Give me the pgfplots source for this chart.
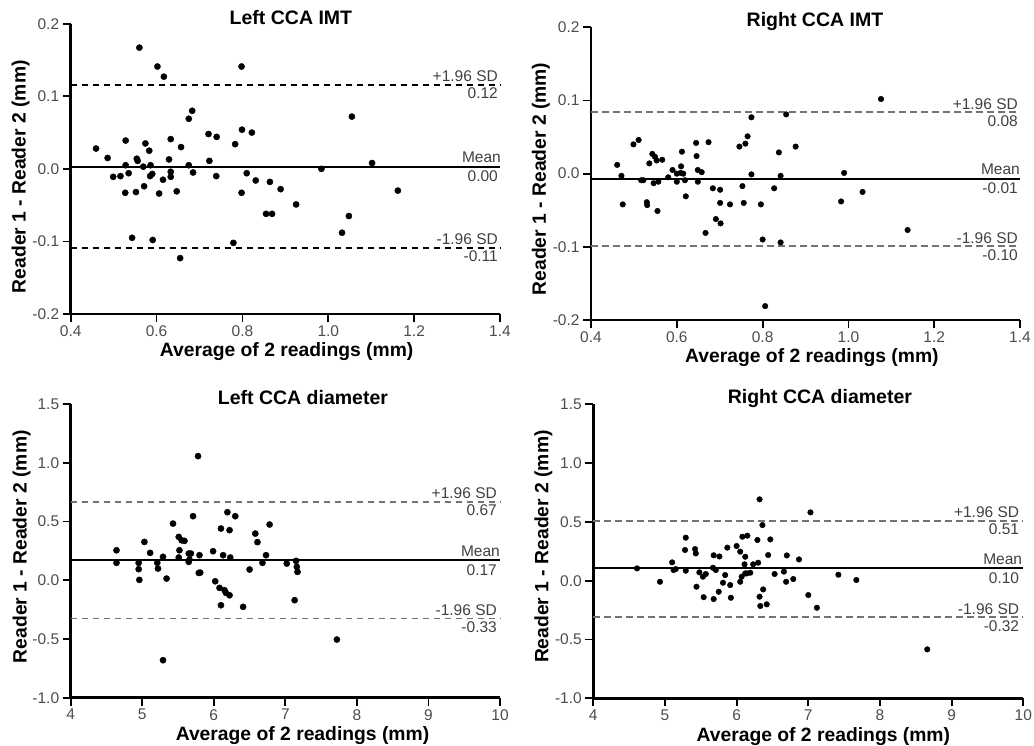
\documentclass[border=0pt]{standalone}
\usepackage{fontspec}
\setmainfont{Liberation Sans}
\usepackage{pgfplots}
\pgfplotsset{compat=1.18}

% one pixel of the reference = 1pt
\pgfplotsset{
  ba/.style={
    scale only axis, axis lines*=left, enlargelimits=false, clip=false,
    axis line style={line width=2.6pt, black},
    tick align=outside, major tick length=8pt,
    tick style={line width=1.8pt, black},
    tick label style={font=\fontsize{15.5}{18}\selectfont, text=black!70},
    label style={font=\fontsize{19.3}{22}\selectfont\bfseries},
    title style={font=\fontsize{19.5}{22}\selectfont\bfseries, anchor=center},
    ylabel={Reader 1 - Reader 2 (mm)},
    xlabel={Average of 2 readings (mm)},
  },
  imt/.style={ba, xmin=0.4, xmax=1.4, ymin=-0.2, ymax=0.2,
    xtick={0.4,0.6,0.8,1.0,1.2,1.4}, xticklabels={0.4,0.6,0.8,1.0,1.2,1.4},
    ytick={-0.2,-0.1,0,0.1,0.2}, yticklabels={-0.2,-0.1,0.0,0.1,0.2}},
  dia/.style={ba, xmin=4, xmax=10, ymin=-1, ymax=1.5,
    xtick={4,5,6,7,8,9,10}, xticklabels={4,5,6,7,8,9,10},
    ytick={-1,-0.5,0,0.5,1,1.5}, yticklabels={-1.0,-0.5,0.0,0.5,1.0,1.5}},
  pts/.style={only marks, mark=*, mark size=#1, mark options={draw=black, fill=black}},
  mn/.style={no marks, black, line width=2.1pt},
  sd/.style={no marks, line width=1.9pt, dash pattern=on 6.5pt off 4.5pt},
}
\tikzset{ann/.style={font=\fontsize{15.5}{18}\selectfont, text=black!75, inner sep=0pt}}

\begin{document}
\begin{tikzpicture}
\useasboundingbox (0,0) rectangle (1034pt,-746pt);

% ---------------- Left CCA IMT ----------------
\begin{axis}[imt, at={(70.7pt,-314pt)}, anchor=south west,
  width=429.3pt, height=290.3pt,
  title={Left CCA IMT}, title style={at={(axis description cs:0.513,1.0)}},
  ylabel style={at={(axis description cs:-0.1165,0.473)}, anchor=center},
  xlabel style={at={(axis description cs:0.503,-0.128)}, anchor=center}]
\addplot[sd, black] coordinates {(0.4,0.116)(1.4,0.116)};
\addplot[sd, black] coordinates {(0.4,-0.109)(1.4,-0.109)};
\addplot[mn] coordinates {(0.4,0.003)(1.4,0.003)};
\addplot[pts=3.1pt] coordinates {
(0.459,0.028)(0.486,0.015)(0.499,-0.011)(0.516,-0.010)(0.528,0.039)
(0.528,0.005)(0.527,-0.033)(0.535,-0.006)(0.543,-0.095)(0.552,-0.032)
(0.554,0.014)(0.556,0.011)(0.560,0.167)(0.571,-0.024)(0.569,0.003)
(0.574,0.035)(0.583,0.025)(0.585,-0.010)(0.586,0.005)(0.590,-0.007)
(0.591,-0.098)(0.602,0.141)(0.606,-0.034)(0.615,-0.015)(0.617,0.127)
(0.629,0.013)(0.633,-0.011)(0.633,-0.004)(0.633,0.041)(0.647,-0.031)
(0.655,-0.123)(0.657,0.030)(0.675,0.069)(0.683,0.080)(0.675,0.005)
(0.685,-0.005)(0.721,0.048)(0.723,0.011)(0.740,0.044)(0.739,-0.010)
(0.779,-0.102)(0.783,0.034)(0.798,0.141)(0.799,0.054)(0.798,-0.033)
(0.810,-0.006)(0.822,0.050)(0.831,-0.016)(0.864,-0.018)(0.889,-0.028)
(0.855,-0.062)(0.869,-0.062)(0.925,-0.049)(0.984,0.000)(1.055,0.072)
(1.102,0.008)(1.032,-0.088)(1.048,-0.065)(1.162,-0.030)};
\node[ann, anchor=base east] at ([xshift=-2pt,yshift=3pt]axis cs:1.4,0.116) {+1.96 SD};
\node[ann, anchor=north east] at ([xshift=-2pt,yshift=-3pt]axis cs:1.4,0.116) {0.12};
\node[ann, anchor=base east] at ([xshift=1pt,yshift=4pt]axis cs:1.4,0.003) {Mean};
\node[ann, anchor=north east] at ([xshift=-2pt,yshift=-4pt]axis cs:1.4,0.003) {0.00};
\node[ann, anchor=base east] at ([xshift=-2pt,yshift=3pt]axis cs:1.4,-0.109) {-1.96 SD};
\node[ann, anchor=north east] at ([xshift=-2pt,yshift=-3pt]axis cs:1.4,-0.109) {-0.11};
\end{axis}

% ---------------- Right CCA IMT ----------------
\begin{axis}[imt, at={(591pt,-320pt)}, anchor=south west,
  width=429pt, height=292.7pt,
  title={Right CCA IMT}, title style={at={(axis description cs:0.522,1.0)}},
  ylabel style={at={(axis description cs:-0.117,0.482)}, anchor=center},
  xlabel style={at={(axis description cs:0.515,-0.128)}, anchor=center}]
\addplot[sd, black!55] coordinates {(0.4,0.084)(1.4,0.084)};
\addplot[sd, black!55] coordinates {(0.4,-0.099)(1.4,-0.099)};
\addplot[mn] coordinates {(0.4,-0.007)(1.4,-0.007)};
\addplot[pts=2.8pt] coordinates {
(0.461,0.012)(0.471,-0.003)(0.474,-0.042)(0.499,0.040)(0.511,0.046)
(0.517,-0.009)(0.522,-0.009)(0.530,-0.039)(0.531,-0.043)(0.536,0.014)
(0.543,0.027)(0.546,-0.013)(0.549,0.023)(0.553,0.018)(0.557,-0.011)
(0.555,-0.051)(0.566,0.019)(0.580,-0.005)(0.590,0.005)(0.600,-0.011)
(0.600,0.000)(0.612,0.030)(0.610,0.010)(0.609,0.001)(0.615,0.000)
(0.619,-0.009)(0.621,-0.031)(0.645,0.042)(0.646,0.024)(0.649,0.005)
(0.649,-0.011)(0.658,0.002)(0.667,-0.081)(0.674,0.043)(0.684,-0.020)
(0.691,-0.062)(0.701,-0.022)(0.701,-0.040)(0.702,-0.068)(0.724,-0.042)
(0.746,0.037)(0.753,-0.017)(0.756,-0.040)(0.760,0.041)(0.765,0.051)
(0.774,0.077)(0.774,-0.001)(0.796,-0.042)(0.800,-0.090)(0.806,-0.181)
(0.827,-0.020)(0.838,0.029)(0.842,-0.003)(0.842,-0.094)(0.855,0.081)
(0.877,0.037)(0.983,-0.038)(0.990,0.001)(1.033,-0.025)(1.076,0.102)
(1.138,-0.077)};
\node[ann, anchor=base east] at ([xshift=-2pt,yshift=3pt]axis cs:1.4,0.084) {+1.96 SD};
\node[ann, anchor=north east] at ([xshift=-2pt,yshift=-3pt]axis cs:1.4,0.084) {0.08};
\node[ann, anchor=base east] at ([xshift=0pt,yshift=4pt]axis cs:1.4,-0.007) {Mean};
\node[ann, anchor=north east] at ([xshift=-2pt,yshift=-4pt]axis cs:1.4,-0.007) {-0.01};
\node[ann, anchor=base east] at ([xshift=-2pt,yshift=3pt]axis cs:1.4,-0.099) {-1.96 SD};
\node[ann, anchor=north east] at ([xshift=-2pt,yshift=-3pt]axis cs:1.4,-0.099) {-0.10};
\end{axis}

% ---------------- Left CCA diameter ----------------
\begin{axis}[dia, at={(70.7pt,-697.7pt)}, anchor=south west,
  width=429.3pt, height=293.7pt,
  title={Left CCA diameter}, title style={at={(axis description cs:0.541,1.0)}},
  ylabel style={at={(axis description cs:-0.114,0.514)}, anchor=center},
  xlabel style={at={(axis description cs:0.54,-0.13)}, anchor=center}]
\addplot[sd, black!55] coordinates {(4,0.667)(10,0.667)};
\addplot[sd, black!55] coordinates {(4,-0.326)(10,-0.326)};
\addplot[mn] coordinates {(4,0.170)(10,0.170)};
\addplot[pts=3.1pt] coordinates {
(4.64,0.255)(4.64,0.148)(4.95,0.148)(4.95,0.094)(4.96,0.003)
(5.03,0.326)(5.11,0.233)(5.21,0.148)(5.22,0.099)(5.29,0.199)
(5.29,-0.681)(5.34,0.014)(5.43,0.482)(5.51,0.369)(5.52,0.255)
(5.51,0.193)(5.55,0.340)(5.59,0.335)(5.65,0.227)(5.65,0.156)
(5.68,0.227)(5.66,0.176)(5.71,0.545)(5.78,1.056)(5.79,0.062)
(5.80,0.213)(5.81,0.065)(5.99,0.247)(6.02,-0.009)(6.10,0.440)
(6.08,-0.065)(6.13,0.213)(6.15,-0.085)(6.17,-0.108)(6.19,0.579)
(6.22,0.426)(6.23,0.193)(6.22,-0.128)(6.10,-0.213)(6.30,0.545)
(6.41,-0.227)(6.50,0.091)(6.58,0.397)(6.61,0.324)(6.78,0.474)
(6.73,0.213)(6.68,0.148)(7.02,0.142)(7.15,0.165)(7.16,0.114)
(7.17,0.071)(7.13,-0.170)(7.72,-0.505)};
\node[ann, anchor=base east] at ([xshift=-3pt,yshift=3pt]axis cs:10,0.667) {+1.96 SD};
\node[ann, anchor=north east] at ([xshift=-3pt,yshift=-3pt]axis cs:10,0.667) {0.67};
\node[ann, anchor=base east] at ([xshift=0pt,yshift=4pt]axis cs:10,0.170) {Mean};
\node[ann, anchor=north east] at ([xshift=-3pt,yshift=-4pt]axis cs:10,0.170) {0.17};
\node[ann, anchor=base east] at ([xshift=-3pt,yshift=3pt]axis cs:10,-0.326) {-1.96 SD};
\node[ann, anchor=north east] at ([xshift=-3pt,yshift=-3pt]axis cs:10,-0.326) {-0.33};
\end{axis}

% ---------------- Right CCA diameter ----------------
\begin{axis}[dia, at={(593.3pt,-698.3pt)}, anchor=south west,
  width=430pt, height=294pt,
  title={Right CCA diameter}, title style={at={(axis description cs:0.527,1.0)}},
  ylabel style={at={(axis description cs:-0.116,0.516)}, anchor=center},
  xlabel style={at={(axis description cs:0.535,-0.13)}, anchor=center}]
\addplot[sd, black!55] coordinates {(4,0.510)(10,0.510)};
\addplot[sd, black!55] coordinates {(4,-0.312)(10,-0.312)};
\addplot[mn] coordinates {(4,0.105)(10,0.105)};
\addplot[pts=2.8pt] coordinates {
(4.61,0.105)(4.93,-0.009)(5.10,0.156)(5.12,0.091)(5.15,0.099)
(5.29,0.366)(5.28,0.261)(5.29,0.085)(5.42,0.269)(5.43,0.232)
(5.44,-0.051)(5.48,0.071)(5.53,0.034)(5.54,-0.140)(5.57,0.057)
(5.68,0.216)(5.76,0.206)(5.67,0.110)(5.68,-0.156)(5.71,0.091)
(5.75,-0.094)(5.81,-0.017)(5.84,0.048)(5.87,0.281)(5.91,-0.037)
(5.92,-0.145)(6.00,0.295)(6.05,0.247)(6.05,-0.009)(6.07,0.034)
(6.08,0.374)(6.11,0.139)(6.12,0.204)(6.12,0.062)(6.15,0.383)
(6.14,0.062)(6.19,0.068)(6.23,0.139)(6.29,0.346)(6.30,0.153)
(6.32,0.692)(6.32,-0.136)(6.33,-0.215)(6.36,0.473)(6.37,-0.074)
(6.42,-0.201)(6.44,0.218)(6.47,0.351)(6.53,0.057)(6.66,0.077)
(6.69,-0.009)(6.79,0.014)(6.70,0.215)(6.87,0.181)(7.03,0.581)
(7.00,-0.122)(7.12,-0.230)(7.42,0.051)(7.67,0.006)(8.66,-0.584)};
\node[ann, anchor=base east] at ([xshift=-4pt,yshift=3pt]axis cs:10,0.510) {+1.96 SD};
\node[ann, anchor=north east] at ([xshift=-4pt,yshift=-3pt]axis cs:10,0.510) {0.51};
\node[ann, anchor=base east] at ([xshift=-1pt,yshift=4pt]axis cs:10,0.105) {Mean};
\node[ann, anchor=north east] at ([xshift=-4pt,yshift=-4pt]axis cs:10,0.105) {0.10};
\node[ann, anchor=base east] at ([xshift=-4pt,yshift=3pt]axis cs:10,-0.312) {-1.96 SD};
\node[ann, anchor=north east] at ([xshift=-4pt,yshift=-3pt]axis cs:10,-0.312) {-0.32};
\end{axis}
\end{tikzpicture}
\end{document}
